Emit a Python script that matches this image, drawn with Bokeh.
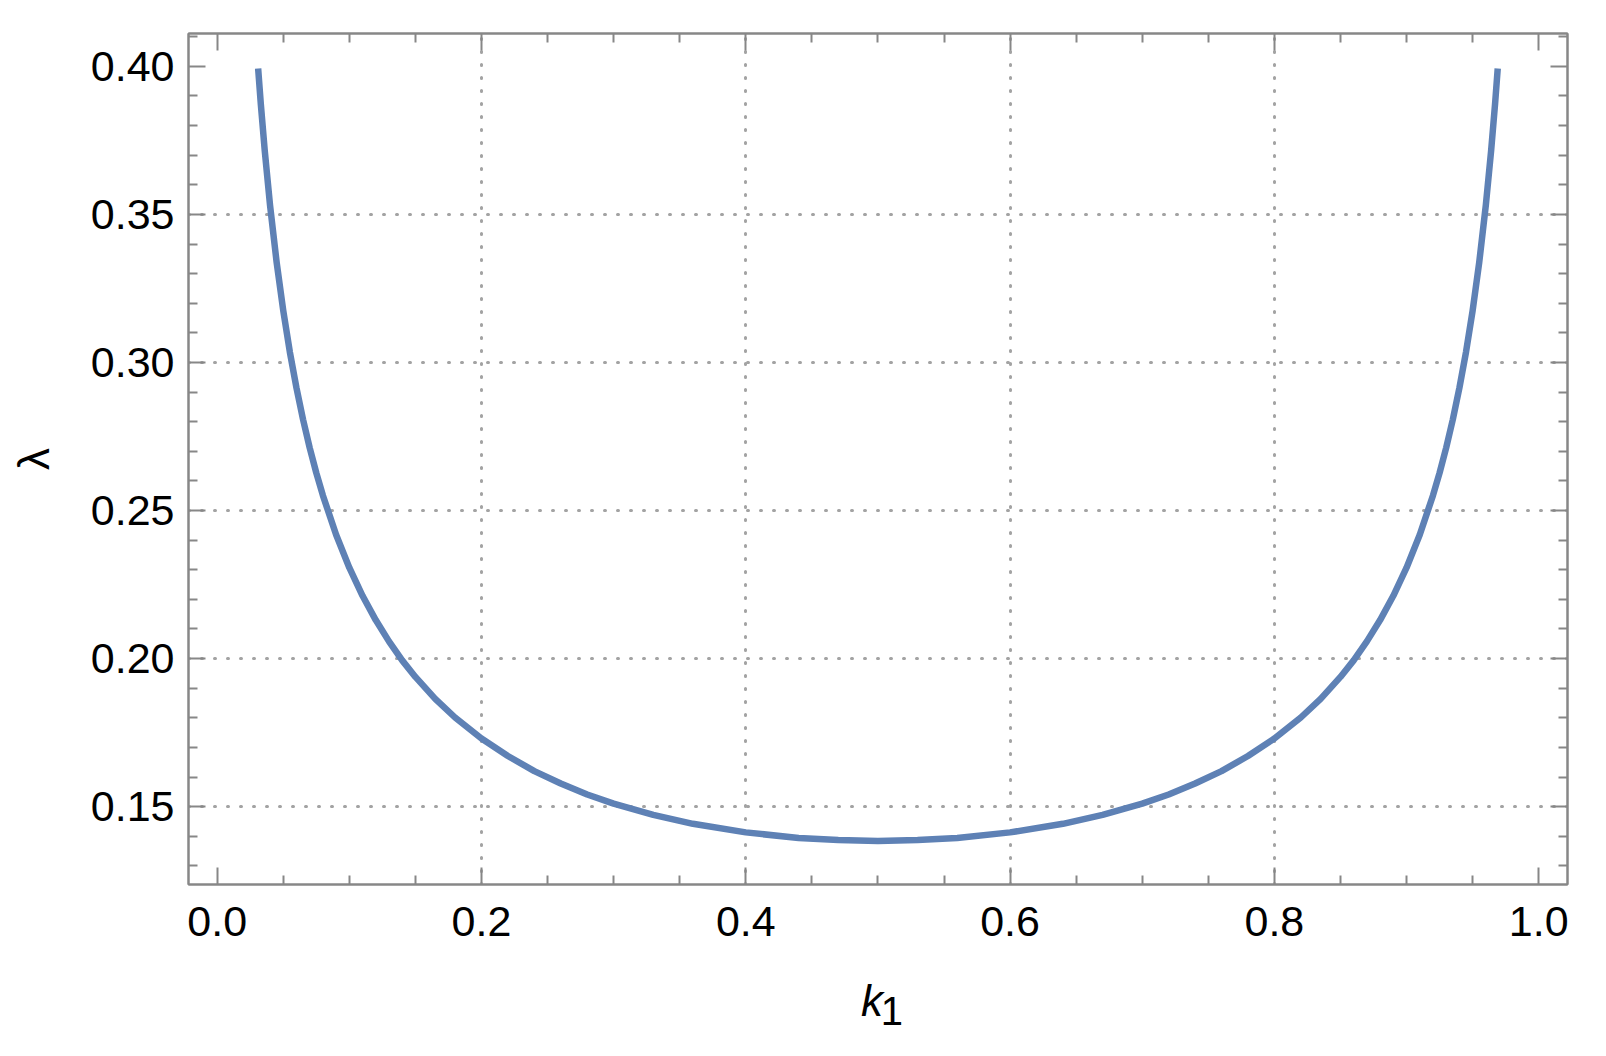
from bokeh.plotting import figure
from bokeh.layouts import column
from bokeh.models import (Range1d, LinearAxis, FixedTicker, CustomJSTickFormatter,
                          PrintfTickFormatter, ColumnDataSource, Grid, Label)
from bokeh.embed import file_html
from bokeh.resources import INLINE

# ---- data ----
k1 = [0.031, 0.033, 0.036, 0.040, 0.045, 0.050, 0.055, 0.060, 0.065, 0.070,
      0.075, 0.080, 0.090, 0.100, 0.110, 0.120, 0.130, 0.140, 0.150, 0.165,
      0.180, 0.200, 0.220, 0.240, 0.260, 0.280, 0.300, 0.330, 0.360, 0.400,
      0.440, 0.470, 0.500, 0.530, 0.560, 0.600, 0.640, 0.670, 0.700, 0.720,
      0.740, 0.760, 0.780, 0.800, 0.820, 0.835, 0.850, 0.860, 0.870, 0.880,
      0.890, 0.900, 0.910, 0.920, 0.925, 0.930, 0.935, 0.940, 0.945, 0.950,
      0.955, 0.960, 0.964, 0.967, 0.969]
lam = [0.3993, 0.3874, 0.3715, 0.3531, 0.3338, 0.3175, 0.3035, 0.2914, 0.2807, 0.2712,
       0.2627, 0.2551, 0.2418, 0.2307, 0.2212, 0.2130, 0.2058, 0.1994, 0.1938, 0.1864,
       0.1801, 0.1730, 0.1671, 0.1620, 0.1578, 0.1541, 0.1510, 0.1472, 0.1442, 0.1413,
       0.1394, 0.1387, 0.1384, 0.1387, 0.1394, 0.1413, 0.1442, 0.1472, 0.1510, 0.1541,
       0.1578, 0.1620, 0.1671, 0.1730, 0.1801, 0.1864, 0.1938, 0.1994, 0.2058, 0.2130,
       0.2212, 0.2307, 0.2418, 0.2551, 0.2627, 0.2712, 0.2807, 0.2914, 0.3035, 0.3175,
       0.3338, 0.3531, 0.3715, 0.3874, 0.3993]

x_major = [0.0, 0.2, 0.4, 0.6, 0.8, 1.0]
x_minor = [0.05, 0.1, 0.15, 0.25, 0.3, 0.35, 0.45, 0.5, 0.55, 0.65, 0.7, 0.75,
           0.85, 0.9, 0.95]
y_major = [0.15, 0.20, 0.25, 0.30, 0.35, 0.40]
y_minor = [0.13, 0.14, 0.16, 0.17, 0.18, 0.19, 0.21, 0.22, 0.23, 0.24, 0.26,
           0.27, 0.28, 0.29, 0.31, 0.32, 0.33, 0.34, 0.36, 0.37, 0.38, 0.39, 0.41]
x_grid = [0.2, 0.4, 0.6, 0.8]
y_grid = [0.15, 0.20, 0.25, 0.30, 0.35]
x_title = "k"
x_title_sub = "1"
y_title = "λ"

X0, X1 = -0.0217, 1.0218
Y0, Y1 = 0.1237, 0.4111

FRAME = "#878787"
GRID = "#a3a3a3"
FONT = "Liberation Sans"
FS = "43px"
W = 1598

p = figure(width=W, height=960, output_backend="svg", toolbar_location=None,
           x_range=Range1d(X0, X1), y_range=Range1d(Y0, Y1),
           x_axis_type=None, y_axis_type=None,
           min_border_left=188, min_border_right=31, min_border_top=33,
           min_border_bottom=76)
p.background_fill_color = "white"
p.border_fill_color = "white"
p.outline_line_color = FRAME
p.outline_line_width = 2


def style_axis(ax, major, minor, labelled, fmt=None):
    ax.ticker = FixedTicker(ticks=major, minor_ticks=minor)
    ax.axis_line_color = FRAME
    ax.axis_line_width = 2
    ax.major_tick_line_color = FRAME
    ax.minor_tick_line_color = FRAME
    ax.major_tick_line_width = 2
    ax.minor_tick_line_width = 2
    ax.major_tick_in = 17
    ax.major_tick_out = 0
    ax.minor_tick_in = 9
    ax.minor_tick_out = 0
    if labelled:
        ax.formatter = PrintfTickFormatter(format=fmt)
        ax.major_label_text_font = FONT
        ax.major_label_text_font_size = FS
        ax.major_label_text_color = "black"
        ax.axis_label_text_font = FONT
        ax.axis_label_text_font_size = "44px"
        ax.axis_label_text_color = "black"
    else:
        ax.formatter = CustomJSTickFormatter(code="return ''")
        ax.major_label_text_font_size = "1px"
        ax.major_label_standoff = 0


xb = LinearAxis()
style_axis(xb, x_major, x_minor, True, "%.1f")
xb.major_label_standoff = 22
p.add_layout(xb, "below")

yl = LinearAxis(axis_label=y_title)
style_axis(yl, y_major, y_minor, True, "%.2f")
yl.major_label_standoff = 14
yl.axis_label_text_font_style = "normal"
yl.axis_label_standoff = 30
p.add_layout(yl, "left")

xt = LinearAxis()
style_axis(xt, x_major, x_minor, False)
p.add_layout(xt, "above")

yr = LinearAxis()
style_axis(yr, y_major, y_minor, False)
p.add_layout(yr, "right")

# grid lines
gx = Grid(dimension=0, ticker=FixedTicker(ticks=x_grid), grid_line_color=GRID,
          grid_line_width=3, grid_line_dash="1 12", grid_line_cap="round")
gy = Grid(dimension=1, ticker=FixedTicker(ticks=y_grid), grid_line_color=GRID,
          grid_line_width=3, grid_line_dash="1 12", grid_line_cap="round")
p.add_layout(gx)
p.add_layout(gy)

src = ColumnDataSource(data=dict(k1=k1, lam=lam))
p.line("k1", "lam", source=src, line_color="#5e81b5", line_width=6.5,
       line_join="round")

# strip under the plot carrying the x-axis title k with subscript 1
H2 = 88
p2 = figure(width=W, height=H2, output_backend="svg", toolbar_location=None,
            x_range=Range1d(0, W), y_range=Range1d(0, H2),
            x_axis_type=None, y_axis_type=None,
            min_border_left=0, min_border_right=0, min_border_top=0,
            min_border_bottom=0)
p2.outline_line_color = None
p2.xgrid.visible = False
p2.ygrid.visible = False
p2.background_fill_color = "white"
p2.border_fill_color = "white"
p2.add_layout(Label(x=792, y=48, text=x_title,
                    text_font=FONT, text_font_size="44px", text_font_style="italic",
                    text_align="center", text_baseline="alphabetic",
                    text_color="black"))
p2.add_layout(Label(x=815, y=38, text=x_title_sub,
                    text_font=FONT, text_font_size="40px",
                    text_align="center", text_baseline="alphabetic",
                    text_color="black"))

layout = column(p, p2, spacing=0)
open("out.html", "w").write(file_html(layout, INLINE))
